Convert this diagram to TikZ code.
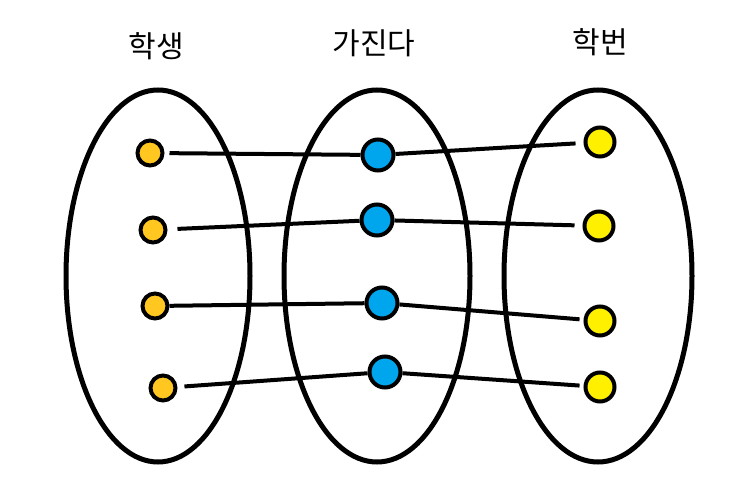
\documentclass[tikz,border=0pt]{standalone}
\usepackage{fontspec}
\newfontfamily\kr{Noto Sans CJK KR}
\begin{document}
\begin{tikzpicture}[x=1pt,y=-1pt,
  setring/.style={draw=black,line width=5pt},
  dotS/.style={circle,draw=black,line width=4pt,fill=orange1,minimum size=25pt,inner sep=0pt},
  dotM/.style={circle,draw=black,line width=4pt,fill=blue1,minimum size=31pt,inner sep=0pt},
  dotR/.style={circle,draw=black,line width=4pt,fill=yellow1,minimum size=29pt,inner sep=0pt},
  link/.style={draw=black,line width=4pt},
  lbl/.style={font=\kr\fontsize{30}{32}\selectfont,inner sep=0pt}]
\definecolor{orange1}{RGB}{255,199,31}
\definecolor{blue1}{RGB}{0,166,237}
\definecolor{yellow1}{RGB}{255,240,0}
\useasboundingbox (0,0) rectangle (756,486);
\fill[white] (0,0) rectangle (756,486);
% sets
\draw[setring] (158,276) ellipse [x radius=92, y radius=186];
\draw[setring] (377,276) ellipse [x radius=93, y radius=186];
\draw[setring] (598,276) ellipse [x radius=94, y radius=186];
% labels
\node[lbl] (t1) at (156,46) {학생};
\node[lbl] (t2) at (374,43) {가진다};
\node[lbl] (t3) at (600,42) {학번};
% dots
\node[dotS] (s1) at (150,153) {};
\node[dotS] (s2) at (153,230) {};
\node[dotS] (s3) at (155,306) {};
\node[dotS] (s4) at (163,388) {};
\node[dotM] (m1) at (378,155) {};
\node[dotM] (m2) at (377,220) {};
\node[dotM] (m3) at (382,303) {};
\node[dotM] (m4) at (385,372) {};
\node[dotR] (r1) at (600,142) {};
\node[dotR] (r2) at (599,226) {};
\node[dotR] (r3) at (600,321) {};
\node[dotR] (r4) at (600,387) {};
% links
\draw[link,shorten <=5pt] (s1) -- (m1);
\draw[link,shorten <=10pt] (s2) -- (m2);
\draw[link] (s3) -- (m3);
\draw[link,shorten <=7pt] (s4) -- (m4);
\draw[link,shorten >=8pt] (m1) -- (r1);
\draw[link,shorten >=8pt] (m2) -- (r2);
\draw[link,shorten >=4pt] (m3) -- (r3);
\draw[link,shorten >=4pt] (m4) -- (r4);
\end{tikzpicture}
\end{document}
